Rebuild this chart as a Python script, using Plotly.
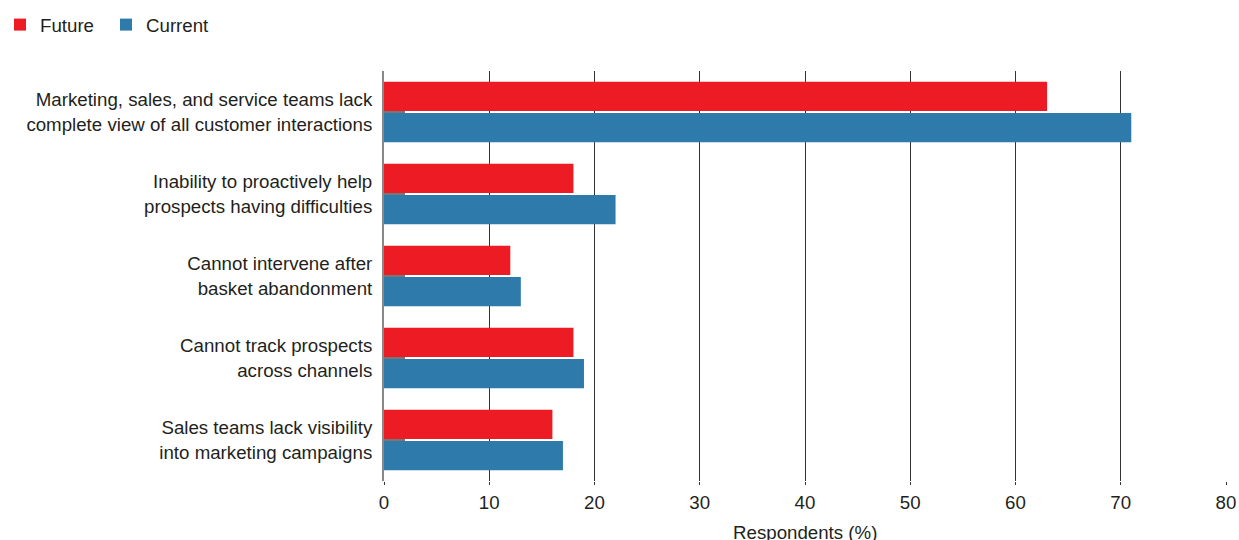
import plotly.graph_objects as go

categories = [
    "Marketing, sales, and service teams lack<br>complete view of all customer interactions",
    "Inability to proactively help<br>prospects having difficulties",
    "Cannot intervene after<br>basket abandonment",
    "Cannot track prospects<br>across channels",
    "Sales teams lack visibility<br>into marketing campaigns",
]
future = [63, 18, 12, 18, 16]
current = [71, 22, 13, 19, 17]
x_ticks = [0, 10, 20, 30, 40, 50, 60, 70, 80]
x_title = "Respondents (%)"

TEXT = "#231f20"
FONT = "Liberation Sans, Arial, sans-serif"
FS = 18.7

fig = go.Figure()
fig.add_trace(go.Bar(name="Future", y=categories, x=future, orientation="h",
                     marker=dict(color="#ed1c24", line=dict(width=0))))
fig.add_trace(go.Bar(name="Current", y=categories, x=current, orientation="h",
                     marker=dict(color="#2e7bab", line=dict(width=0))))

fig.add_annotation(text=x_title, xref="paper", yref="paper", x=0.5, y=0,
                   xanchor="center", yanchor="middle", yshift=-51,
                   showarrow=False, font=dict(size=FS, color=TEXT))

fig.update_layout(
    width=1239, height=540,
    margin=dict(l=384, r=13, t=71, b=59, autoexpand=False),
    paper_bgcolor="white", plot_bgcolor="white",
    barmode="group", bargap=0.24, bargroupgap=0.06,
    font=dict(family=FONT, size=FS, color=TEXT),
    legend=dict(orientation="h", xref="container", yref="container",
                x=0.0, y=0.989, xanchor="left", yanchor="top",
                entrywidth=61, entrywidthmode="pixels",
                font=dict(size=FS, color=TEXT), traceorder="normal",
                itemclick=False),
    xaxis=dict(range=[0, 80], tickvals=x_ticks, showgrid=True,
               gridcolor="#333333", gridwidth=1, zeroline=False,
               ticks="outside", ticklen=3, tickcolor="#333333",
               tickfont=dict(size=FS, color=TEXT), ticklabelstandoff=2,
               showline=False, fixedrange=True, automargin=False),
    yaxis=dict(autorange="reversed", showgrid=False, zeroline=False,
               showline=True, linecolor="#888888", linewidth=2,
               ticks="inside", ticklen=21, tickcolor="#777777", tickwidth=2,
               tickfont=dict(size=FS, color=TEXT), ticklabelstandoff=6,
               fixedrange=True, automargin=False),
)

fig.write_html("out.html", config={"displayModeBar": False},
               post_script="document.body.style.margin='0';")
